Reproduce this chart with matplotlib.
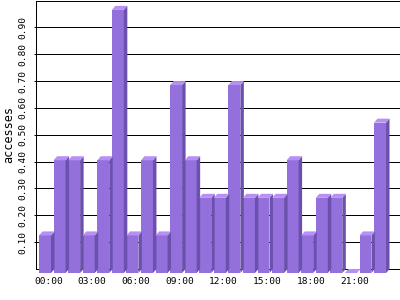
import matplotlib
matplotlib.use("Agg")
import matplotlib.pyplot as plt
import numpy as np

hours = ["%02d:00" % h for h in range(24)]
accesses = [0.14, 0.42, 0.42, 0.14, 0.42, 0.98, 0.14, 0.42, 0.14, 0.70, 0.42, 0.28,
            0.28, 0.70, 0.28, 0.28, 0.28, 0.42, 0.14, 0.28, 0.28, 0.00, 0.14, 0.56]
y_ticks = [0.10, 0.20, 0.30, 0.40, 0.50, 0.60, 0.70, 0.80, 0.90]

FRONT = "#9370db"
SIDE = "#6b51ad"
TOP = "#b78ff5"
W = 0.82      # front face width
DX = 0.24     # depth, x data units
DY = 0.015    # depth, y data units
PX = 0.72     # 1 px in points

plt.rcParams["font.family"] = "DejaVu Sans Mono"

fig = plt.figure(figsize=(4, 3), dpi=100)
ax = fig.add_axes([0.09, 31 / 300, 0.91, 268.5 / 300])

x = np.arange(len(hours))
ax.bar(x, accesses, width=W, bottom=-DY, color=FRONT, zorder=3, clip_on=False)
for xi, v in zip(x, accesses):
    l, r = xi - W / 2, xi + W / 2
    ax.fill([r, r + DX, r + DX, r], [-DY, 0, v, v - DY], color=SIDE, zorder=3, clip_on=False, lw=0)
    ax.fill([l, l + DX, r + DX, r], [v - DY, v, v, v - DY], color=TOP, zorder=3, clip_on=False, lw=0)

ax.set_xlim(-0.62, 24.37)
ax.set_ylim(0, 1.0)

ax.set_yticks(y_ticks)
ax.set_yticklabels(["%.2f" % t for t in y_ticks], rotation=90, va="center")
ax.yaxis.grid(True, color="black", lw=PX, zorder=0)
ax.set_axisbelow(True)

ax.set_xticks(x[::3] + 0.24)
ax.set_xticklabels(hours[::3])
ax.tick_params(axis="x", length=0, pad=5.5, labelsize=6.8)
ax.tick_params(axis="y", length=1.5, width=PX, pad=4.5, labelsize=6.8)

for s in ["left", "bottom", "top"]:
    ax.spines[s].set_linewidth(PX)
    ax.spines[s].set_color("black")
ax.spines["right"].set_visible(False)

ax.set_ylabel("accesses", fontsize=8.6)
ax.yaxis.set_label_coords(-0.058, 0.5)

fig.savefig("out.png", dpi=100)
